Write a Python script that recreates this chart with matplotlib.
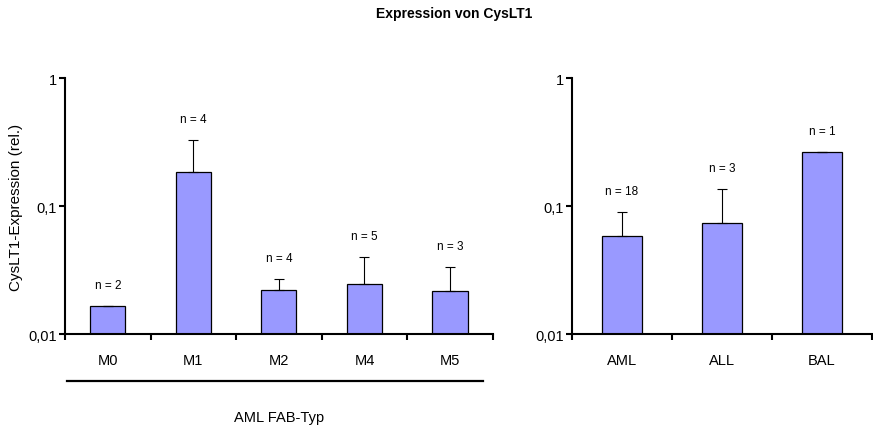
import matplotlib.pyplot as plt
import numpy as np

# AML subtypes (FAB classification)
fab_types = ["M0", "M1", "M2", "M4", "M5"]
fab_mean = [0.0166, 0.185, 0.0222, 0.0247, 0.0215]
fab_upper = [0.0166, 0.330, 0.0270, 0.0402, 0.0336]
fab_n = [2, 4, 4, 5, 3]

# leukemia groups
groups = ["AML", "ALL", "BAL"]
group_mean = [0.0579, 0.0733, 0.266]
group_upper = [0.0904, 0.137, 0.266]
group_n = [18, 3, 1]

plt.rcParams["font.family"] = ["Liberation Sans", "DejaVu Sans"]
NARROW = ["Liberation Sans Narrow", "Liberation Sans", "DejaVu Sans"]
BAR_COLOR = "#9999FF"


def bar_panel(ax, cats, mean, upper, counts, width):
    x = np.arange(len(cats)) + 0.5
    err = np.array(upper) - np.array(mean)
    ax.bar(x, mean, width=width, color=BAR_COLOR, edgecolor="black", linewidth=0.9, zorder=2)
    ax.errorbar(x, mean, yerr=[np.zeros(len(x)), err], fmt="none", ecolor="black",
                elinewidth=0.8, capsize=3.5, capthick=0.8, zorder=3)
    for xi, top, n in zip(x, upper, counts):
        ax.annotate("n = %d" % n, (xi, top), xytext=(0, 15), textcoords="offset points",
                    ha="center", va="center", fontsize=8.5)

    ax.set_yscale("log")
    ax.set_ylim(0.01, 1)
    ax.set_yticks([0.01, 0.1, 1])
    ax.set_yticklabels(["0,01", "0,1", "1"], family=NARROW)
    ax.yaxis.set_minor_locator(plt.NullLocator())
    ax.set_xlim(0, len(cats))
    ax.set_xticks(np.arange(len(cats) + 1))
    ax.set_xticklabels([])
    ax.set_xticks(x, minor=True)
    ax.set_xticklabels(cats, minor=True, family=NARROW)
    ax.tick_params(axis="x", which="minor", length=0, pad=13.5, labelsize=10.5)
    ax.tick_params(axis="x", which="major", direction="out", length=4, width=1.5)
    ax.tick_params(axis="y", which="major", direction="out", length=4, width=1.5, labelsize=10.5, pad=2)
    for s in ["top", "right"]:
        ax.spines[s].set_visible(False)
    for s in ["left", "bottom"]:
        ax.spines[s].set_linewidth(1.5)


fig = plt.figure(figsize=(8.73, 4.31), dpi=100)
ax1 = fig.add_axes([0.0745, 0.2227, 0.490, 0.594])
ax2 = fig.add_axes([0.6552, 0.2227, 0.3436, 0.594])

bar_panel(ax1, fab_types, fab_mean, fab_upper, fab_n, 0.41)
bar_panel(ax2, groups, group_mean, group_upper, group_n, 0.40)

ax1.set_ylabel("CysLT1-Expression (rel.)", fontsize=11, labelpad=4)

# bracket line under the FAB subtypes
ax1.plot([0.005, 0.977], [-0.184, -0.184], transform=ax1.transAxes, color="black",
         linewidth=1.6, clip_on=False)
fig.text(0.32, 0.03, "AML FAB-Typ", ha="center", va="center", fontsize=10.5, family=NARROW)

fig.text(0.52, 0.967, "Expression von CysLT1", ha="center", va="center",
         fontsize=10, fontweight="bold", family=NARROW)

fig.savefig("out.png", dpi=100)
